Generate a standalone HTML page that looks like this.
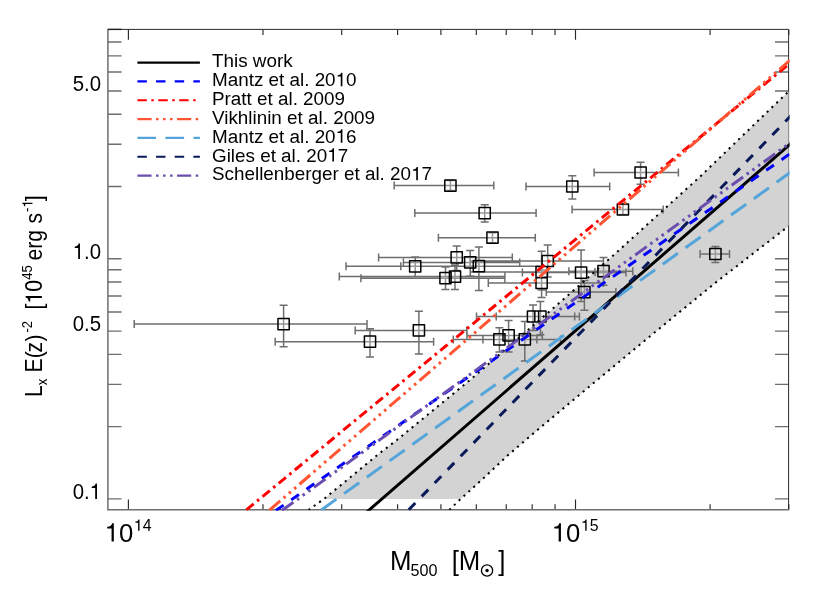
<!DOCTYPE html>
<html><head><meta charset="utf-8"><title>Lx - M500</title>
<style>html,body{margin:0;padding:0;background:#fff;width:830px;height:593px;overflow:hidden;font-family:"Liberation Sans",sans-serif}</style>
</head><body>
<svg width="830" height="593" viewBox="0 0 830 593" style="position:absolute;left:0;top:0;will-change:transform" font-family="'Liberation Sans', sans-serif">
<rect width="830" height="593" fill="#fff"/>
<defs><clipPath id="cp"><rect x="107.9" y="29.4" width="680.7" height="480.40000000000003"/></clipPath><clipPath id="cpb"><rect x="107.9" y="29.4" width="681.0500000000001" height="480.40000000000003"/></clipPath><clipPath id="cpl"><rect x="107.9" y="29.4" width="681.7" height="481.3"/></clipPath></defs>
<path d="M107.9 498.90h13.6M788.6 498.90h-13.6M107.9 426.62h13.6M788.6 426.62h-13.6M107.9 384.34h13.6M788.6 384.34h-13.6M107.9 354.35h13.6M788.6 354.35h-13.6M107.9 331.08h13.6M788.6 331.08h-13.6M107.9 312.07h13.6M788.6 312.07h-13.6M107.9 295.99h13.6M788.6 295.99h-13.6M107.9 282.07h13.6M788.6 282.07h-13.6M107.9 269.79h13.6M788.6 269.79h-13.6M107.9 258.80h13.6M788.6 258.80h-13.6M107.9 186.52h13.6M788.6 186.52h-13.6M107.9 144.24h13.6M788.6 144.24h-13.6M107.9 114.25h13.6M788.6 114.25h-13.6M107.9 90.98h13.6M788.6 90.98h-13.6M107.9 71.97h13.6M788.6 71.97h-13.6M107.9 55.89h13.6M788.6 55.89h-13.6M107.9 41.97h13.6M788.6 41.97h-13.6" stroke="#6e6e6e" stroke-width="1.4" fill="none"/>
<path d="M128.40 509.8v-10.3M128.40 29.4v10.3M262.99 509.8v-5.5M262.99 29.4v5.5M341.72 509.8v-5.5M341.72 29.4v5.5M397.58 509.8v-5.5M397.58 29.4v5.5M440.91 509.8v-5.5M440.91 29.4v5.5M476.31 509.8v-5.5M476.31 29.4v5.5M506.24 509.8v-5.5M506.24 29.4v5.5M532.17 509.8v-5.5M532.17 29.4v5.5M555.04 509.8v-5.5M555.04 29.4v5.5M575.50 509.8v-10.3M575.50 29.4v10.3M710.09 509.8v-5.5M710.09 29.4v5.5M788.82 509.8v-5.5M788.82 29.4v5.5" stroke="#2a2a2a" stroke-width="1.15" fill="none"/>
<path d="M107.9 29.4H788.6V509.8" stroke="#2b2b2b" stroke-width="1" fill="none"/>
<path d="M107.9 28.9V509.8H789.1" stroke="#6e6e6e" stroke-width="1.5" fill="none"/>
<path d="M107.9 29.4h13.6" stroke="#222" stroke-width="1.4" fill="none"/>
<g clip-path="url(#cpb)">
<polygon points="324.0,498.9 324.3,498.7 380.0,452.9 396.9,440.0 470.0,380.0 556.5,305.4 614.3,254.5 660.0,213.0 700.3,176.4 788.6,91.4 788.6,226.1 718.9,280.0 673.0,317.3 627.6,354.8 577.3,396.6 532.1,434.5 507.3,455.8 483.0,478.7 460.7,498.9" fill="#d3d3d3"/>
</g>
<g clip-path="url(#cp)">
<path d="M134.2 324.1H367.0M134.2 320.1v8M367.0 320.1v8M283.6 305.2V346.7M279.6 305.2h8M279.6 346.7h8M275.2 341.7H433.6M275.2 337.7v8M433.6 337.7v8M370.0 328.7V357.0M366.0 328.7h8M366.0 357.0h8M394.2 185.6H493.8M394.2 181.6v8M493.8 181.6v8M450.4 180.6V190.6M446.4 180.6h8M446.4 190.6h8M414.8 213.1H536.1M414.8 209.1v8M536.1 209.1v8M484.7 204.7V222.1M480.7 204.7h8M480.7 222.1h8M438.4 237.7H535.3M438.4 233.7v8M535.3 233.7v8M492.5 232.7V242.7M488.5 232.7h8M488.5 242.7h8M526.0 186.5H609.7M526.0 182.5v8M609.7 182.5v8M572.3 175.8V198.9M568.3 175.8h8M568.3 198.9h8M594.1 172.5H678.4M594.1 168.5v8M678.4 168.5v8M640.6 162.3V184.2M636.6 162.3h8M636.6 184.2h8M572.1 209.5H663.2M572.1 205.5v8M663.2 205.5v8M622.9 204.5V214.5M618.9 204.5h8M618.9 214.5h8M700.1 254.0H729.5M700.1 250.0v8M729.5 250.0v8M715.4 246.4V262.4M711.4 246.4h8M711.4 262.4h8M346.0 266.3H479M346.0 262.3v8M479 262.3v8M415.2 257.0V276.4M411.2 257.0h8M411.2 276.4h8M378.6 257.4H512.3M378.6 253.39999999999998v8M512.3 253.39999999999998v8M456.7 245.9V270.5M452.7 245.9h8M452.7 270.5h8M403.4 262.4H519.7M403.4 258.4v8M519.7 258.4v8M470.2 250.5V275.9M466.2 250.5h8M466.2 275.9h8M400.8 266.2H541.6M400.8 262.2v8M541.6 262.2v8M478.9 246.9V290.5M474.9 246.9h8M474.9 290.5h8M360.9 278.2H504.9M360.9 274.2v8M504.9 274.2v8M445.5 267.1V289.4M441.5 267.1h8M441.5 289.4h8M339.3 276.6H504.9M339.3 272.6v8M504.9 272.6v8M455.0 265V289.4M451.0 265h8M451.0 289.4h8M355.2 330.4H466.8M355.2 326.4v8M466.8 326.4v8M418.9 311.3V354.0M414.9 311.3h8M414.9 354.0h8M453.3 339.4H536.9M453.3 335.4v8M536.9 335.4v8M499.4 327.7V352.0M495.4 327.7h8M495.4 352.0h8M467.0 335.4H542.3M467.0 331.4v8M542.3 331.4v8M508.6 320.5V352.0M504.6 320.5h8M504.6 352.0h8M482.9 339.4H560.5M482.9 335.4v8M560.5 335.4v8M524.8 321.6V361.0M520.8 321.6h8M520.8 361.0h8M476.5 316.5H574.7M476.5 312.5v8M574.7 312.5v8M533.0 305.0V330.6M529.0 305.0h8M529.0 330.6h8M496.2 316.5H579.4M496.2 312.5v8M579.4 312.5v8M540.4 301.5V334.7M536.4 301.5h8M536.4 334.7h8M470.0 261.0H603.4M470.0 257.0v8M603.4 257.0v8M547.7 245.1V277M543.7 245.1h8M543.7 277h8M470.3 272.1H595.0M470.3 268.1v8M595.0 268.1v8M541.6 251.3V290M537.6 251.3h8M537.6 290h8M488.3 283.0H603.4M488.3 279.0v8M603.4 279.0v8M541.6 270V297.5M537.6 270h8M537.6 297.5h8M522.4 272.6H626.0M522.4 268.6v8M626.0 268.6v8M581.1 250.1V301.4M577.1 250.1h8M577.1 301.4h8M568.9 271.2H632.8M568.9 267.2v8M632.8 267.2v8M603.5 257.5V285.2M599.5 257.5h8M599.5 285.2h8M546.3 292.1H615.9M546.3 288.1v8M615.9 288.1v8M584.4 280.5V310.2M580.4 280.5h8M580.4 310.2h8" stroke="#6e6e6e" stroke-width="1.5" fill="none"/>
<path d="M278.0 318.5h11.2v11.2h-11.2zM364.4 336.1h11.2v11.2h-11.2zM444.8 180.0h11.2v11.2h-11.2zM479.1 207.5h11.2v11.2h-11.2zM486.9 232.1h11.2v11.2h-11.2zM566.7 180.9h11.2v11.2h-11.2zM635.0 166.9h11.2v11.2h-11.2zM617.3 203.9h11.2v11.2h-11.2zM709.8 248.4h11.2v11.2h-11.2zM409.6 260.7h11.2v11.2h-11.2zM451.1 251.8h11.2v11.2h-11.2zM464.6 256.8h11.2v11.2h-11.2zM473.3 260.6h11.2v11.2h-11.2zM439.9 272.6h11.2v11.2h-11.2zM449.4 271.0h11.2v11.2h-11.2zM413.3 324.8h11.2v11.2h-11.2zM493.8 333.8h11.2v11.2h-11.2zM503.0 329.8h11.2v11.2h-11.2zM519.2 333.8h11.2v11.2h-11.2zM527.4 310.9h11.2v11.2h-11.2zM534.8 310.9h11.2v11.2h-11.2zM542.1 255.4h11.2v11.2h-11.2zM536.0 266.5h11.2v11.2h-11.2zM536.0 277.4h11.2v11.2h-11.2zM575.5 267.0h11.2v11.2h-11.2zM597.9 265.6h11.2v11.2h-11.2zM578.8 286.5h11.2v11.2h-11.2z" stroke="#000" stroke-width="1.5" fill="#fff" fill-opacity="0.28" stroke-linejoin="round"/>
<path d="M308.4 510.0 L324.3 498.7 L380.0 452.9 L396.9 440.0 L470.0 380.0 L556.5 305.4 L614.3 254.5 L660.0 213.0 L700.3 176.4 L788.6 91.4" stroke="#000" stroke-width="2" stroke-dasharray="2.1 4.5" fill="none"/>
<path d="M449.3 510.0 L459.3 500.2 L483.0 478.7 L507.3 455.8 L532.1 434.5 L577.3 396.6 L627.6 354.8 L673.0 317.3 L718.9 280.0 L788.6 226.1" stroke="#000" stroke-width="2" stroke-dasharray="2.1 4.5" fill="none"/>
</g><g clip-path="url(#cpl)">
<path d="M348.2 528.2L809.6 127.3" stroke="#000000" stroke-width="3" fill="none"/>
<path d="M250.9 527.8L814.2 137.0" stroke="#0000ff" stroke-width="3" stroke-dasharray="9.45 9.2" stroke-dashoffset="-11.71" fill="none"/>
<path d="M219.0 532.3L815.7 42.2" stroke="#ff0000" stroke-width="3" stroke-dasharray="9.45 4.45 2.56 4.45" stroke-dashoffset="-14.48" fill="none"/>
<path d="M243.8 532.4L814.5 39.1" stroke="#ff5533" stroke-width="3" stroke-dasharray="14.17 4.45 2.56 4.45 2.56 4.45 2.56 4.45" stroke-dashoffset="-33.97" fill="none"/>
<path d="M298.0 526.8L812.0 156.8" stroke="#55a5da" stroke-width="3" stroke-dasharray="18.65 9.4" stroke-dashoffset="-0.64" fill="none"/>
<path d="M389.5 529.6L807.6 98.6" stroke="#0a195a" stroke-width="3" stroke-dasharray="9.45 9.2" stroke-dashoffset="-8.96" fill="none"/>
<path d="M257.4 528.3L813.9 125.7" stroke="#6a4fb0" stroke-width="3" stroke-dasharray="14.17 4.45 2.56 4.45 2.56 4.45 2.56 4.45" stroke-dashoffset="-30.22" fill="none"/>
</g>
<path d="M137.4 62.55H199.9" stroke="#000" stroke-width="2.2" fill="none"/>
<text x="212.00" y="67.30" font-size="18.85">This work</text>
<path d="M137.4 81.39H199.9" stroke="#0000ff" stroke-width="2.2" stroke-dasharray="9.45 9.2" fill="none"/>
<text x="212.00" y="86.14" font-size="18.85">Mantz et al. 20</text><path transform="translate(335.64 86.14) scale(0.01885 -0.01885)" d="M271 0H359V709H292C280 625 220 583 101 573V506H271Z" fill="#000"/><text x="346.12" y="86.14" font-size="18.85">0</text>
<path d="M137.4 100.23H199.9" stroke="#ff0000" stroke-width="2.2" stroke-dasharray="9.45 4.45 2.56 4.45" fill="none"/>
<text x="212.00" y="104.98" font-size="18.85">Pratt et al. 2009</text>
<path d="M137.4 119.07H199.9" stroke="#ff5533" stroke-width="2.2" stroke-dasharray="14.17 4.45 2.56 4.45 2.56 4.45 2.56 4.45" fill="none"/>
<text x="212.00" y="123.82" font-size="18.85">Vikhlinin et al. 2009</text>
<path d="M137.4 137.91H199.9" stroke="#55a5da" stroke-width="2.2" stroke-dasharray="18.65 9.4" fill="none"/>
<text x="212.00" y="142.66" font-size="18.85">Mantz et al. 20</text><path transform="translate(335.64 142.66) scale(0.01885 -0.01885)" d="M271 0H359V709H292C280 625 220 583 101 573V506H271Z" fill="#000"/><text x="346.12" y="142.66" font-size="18.85">6</text>
<path d="M137.4 156.75H199.9" stroke="#0a195a" stroke-width="2.2" stroke-dasharray="9.45 9.2" fill="none"/>
<text x="212.00" y="161.50" font-size="18.85">Giles et al. 20</text><path transform="translate(327.25 161.50) scale(0.01885 -0.01885)" d="M271 0H359V709H292C280 625 220 583 101 573V506H271Z" fill="#000"/><text x="337.74" y="161.50" font-size="18.85">7</text>
<path d="M137.4 175.59H199.9" stroke="#6a4fb0" stroke-width="2.2" stroke-dasharray="14.17 4.45 2.56 4.45 2.56 4.45 2.56 4.45" fill="none"/>
<text x="212.00" y="180.34" font-size="18.85">Schellenberger et al. 20</text><path transform="translate(411.11 180.34) scale(0.01885 -0.01885)" d="M271 0H359V709H292C280 625 220 583 101 573V506H271Z" fill="#000"/><text x="421.59" y="180.34" font-size="18.85">7</text>
<text x="72.64" y="91.08" font-size="20.4" transform="translate(0 91.08) scale(1 1.065) translate(0 -91.08)">5.0</text>
<path transform="translate(72.64 258.90) scale(0.02040 -0.02173)" d="M271 0H359V709H292C280 625 220 583 101 573V506H271Z" fill="#000"/><text x="83.99" y="258.90" font-size="20.4" transform="translate(0 258.90) scale(1 1.065) translate(0 -258.90)">.0</text>
<text x="72.64" y="331.18" font-size="20.4" transform="translate(0 331.18) scale(1 1.065) translate(0 -331.18)">0.5</text>
<text x="72.64" y="499.00" font-size="20.4" transform="translate(0 499.00) scale(1 1.065) translate(0 -499.00)">0.</text><path transform="translate(89.66 499.00) scale(0.02040 -0.02173)" d="M271 0H359V709H292C280 625 220 583 101 573V506H271Z" fill="#000"/>
<path transform="translate(104.60 541.60) scale(0.02570 -0.02596)" d="M271 0H359V709H292C280 625 220 583 101 573V506H271Z" fill="#000"/><text x="118.89" y="541.60" font-size="25.7" transform="translate(0 541.60) scale(1 1.01) translate(0 -541.60)">0</text>
<path transform="translate(133.80 530.70) scale(0.01590 -0.01590)" d="M271 0H359V709H292C280 625 220 583 101 573V506H271Z" fill="#000"/><text x="142.64" y="530.70" font-size="15.9">4</text>
<path transform="translate(551.70 541.60) scale(0.02570 -0.02596)" d="M271 0H359V709H292C280 625 220 583 101 573V506H271Z" fill="#000"/><text x="565.99" y="541.60" font-size="25.7" transform="translate(0 541.60) scale(1 1.01) translate(0 -541.60)">0</text>
<path transform="translate(580.90 530.70) scale(0.01590 -0.01590)" d="M271 0H359V709H292C280 625 220 583 101 573V506H271Z" fill="#000"/><text x="589.74" y="530.70" font-size="15.9">5</text>
<g transform="translate(0 569.9) scale(1 1.055) translate(0 -569.9)"><text x="389.9" y="569.9" font-size="25.8">M</text><text x="410.4" y="575.6" font-size="16.2">500</text><text x="451.7" y="569.9" font-size="25.8">[M</text><text x="498.2" y="569.9" font-size="25.8">]</text></g>
<circle cx="487.05" cy="570.5" r="5.6" fill="none" stroke="#000" stroke-width="1.3"/><circle cx="487.05" cy="570.5" r="1.7" fill="#000"/>
<g transform="translate(41.9 0) rotate(-90) scale(1 1.085)">
<text x="-396.95" y="0.00" font-size="21.2">L</text>
<text x="-385.35" y="4.70" font-size="13.1">x</text>
<text x="-372.60" y="0.00" font-size="21.2">E</text>
<text x="-358.20" y="0.00" font-size="21.2">(</text>
<text x="-352.60" y="0.00" font-size="21.2">z</text>
<text x="-341.50" y="0.00" font-size="21.2">)</text>
<text x="-332.50" y="-8.70" font-size="13.1">-2</text>
<text x="-309.55" y="0.00" font-size="21.2">[</text><path transform="translate(-303.66 0.00) scale(0.02120 -0.02120)" d="M271 0H359V709H292C280 625 220 583 101 573V506H271Z" fill="#000"/><text x="-291.87" y="0.00" font-size="21.2">0</text>
<text x="-279.70" y="-8.70" font-size="13.1">45</text>
<text x="-260.50" y="0.00" font-size="21.2">erg</text>
<text x="-223.60" y="0.00" font-size="21.2">s</text>
<text x="-211.90" y="-8.70" font-size="13.1">-</text><path transform="translate(-207.54 -8.70) scale(0.01310 -0.01310)" d="M271 0H359V709H292C280 625 220 583 101 573V506H271Z" fill="#000"/>
<text x="-201.30" y="0.00" font-size="21.2">]</text>
</g>
</svg>
</body></html>
